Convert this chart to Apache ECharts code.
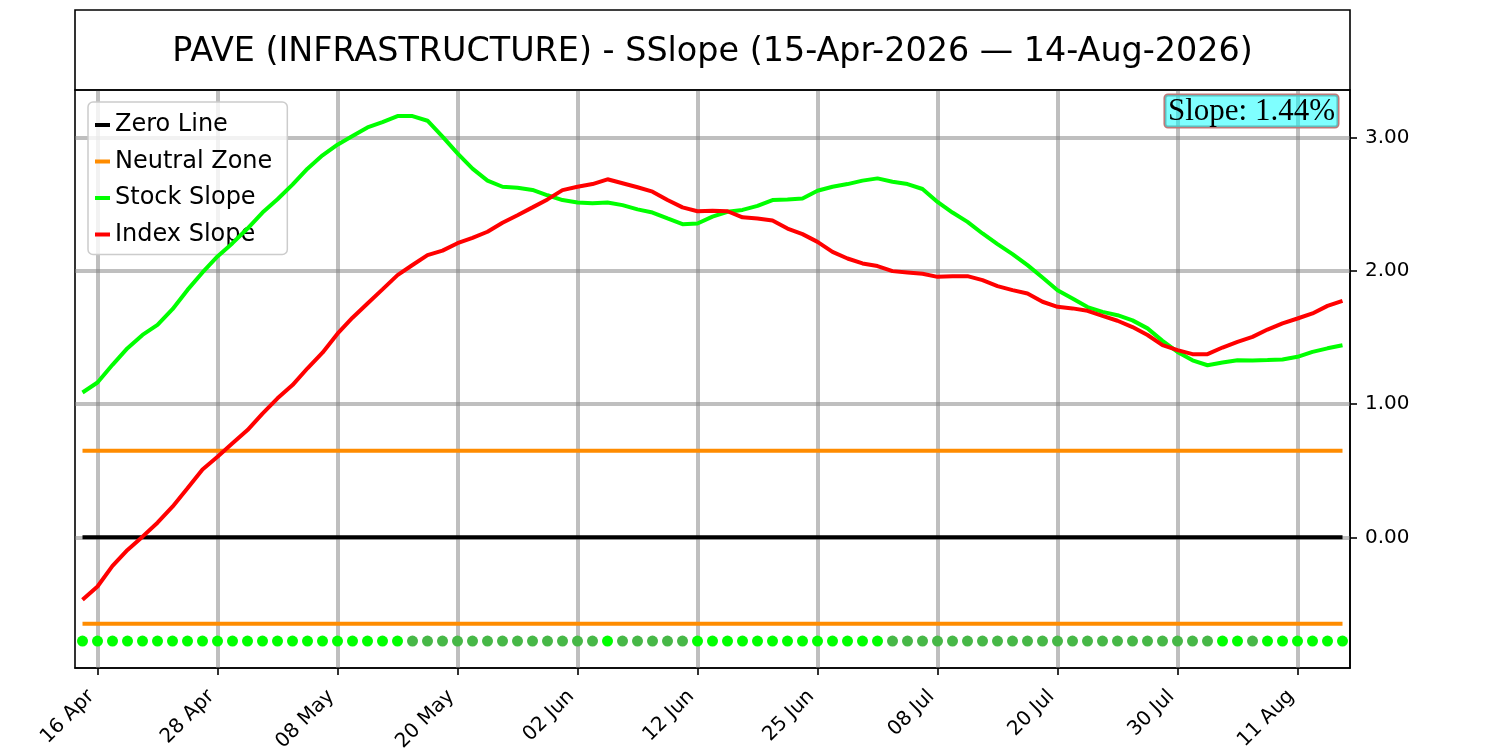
<!DOCTYPE html>
<html>
<head>
<meta charset="UTF-8">
<title>PAVE SSlope</title>
<style>
  html, body { margin: 0; padding: 0; background: #fff; }
  #main { width: 1500px; height: 750px; }
</style>
</head>
<body>
<div id="main"></div>
<script src="https://cdn.jsdelivr.net/npm/echarts@6/dist/echarts.min.js"></script>
<script>
// trading days 15 Apr - 14 Aug 2026
var dates = [
  '15 Apr', '16 Apr', '17 Apr', '20 Apr', '21 Apr', '22 Apr', '23 Apr', '24 Apr', '27 Apr', '28 Apr', '29 Apr', '30 Apr',
  '01 May', '04 May', '05 May', '06 May', '07 May', '08 May', '11 May', '12 May', '13 May', '14 May', '15 May',
  '18 May', '19 May', '20 May', '21 May', '22 May', '26 May', '27 May', '28 May', '29 May',
  '01 Jun', '02 Jun', '03 Jun', '04 Jun', '05 Jun', '08 Jun', '09 Jun', '10 Jun', '11 Jun', '12 Jun',
  '15 Jun', '16 Jun', '17 Jun', '18 Jun', '22 Jun', '23 Jun', '24 Jun', '25 Jun', '26 Jun', '29 Jun', '30 Jun',
  '01 Jul', '02 Jul', '06 Jul', '07 Jul', '08 Jul', '09 Jul', '10 Jul', '13 Jul', '14 Jul', '15 Jul', '16 Jul', '17 Jul',
  '20 Jul', '21 Jul', '22 Jul', '23 Jul', '24 Jul', '27 Jul', '28 Jul', '29 Jul', '30 Jul', '31 Jul',
  '03 Aug', '04 Aug', '05 Aug', '06 Aug', '07 Aug', '10 Aug', '11 Aug', '12 Aug', '13 Aug', '14 Aug'
];

var stockSlope = [
  1.088, 1.163, 1.296, 1.421, 1.521, 1.596, 1.714, 1.859, 1.990, 2.110,
  2.210, 2.320, 2.440, 2.540, 2.650, 2.770, 2.870, 2.950, 3.015, 3.080,
  3.120, 3.165, 3.165, 3.130, 3.010, 2.885, 2.770, 2.680, 2.634, 2.627,
  2.610, 2.570, 2.534, 2.516, 2.510, 2.516, 2.496, 2.464, 2.440, 2.396,
  2.353, 2.358, 2.410, 2.446, 2.460, 2.490, 2.534, 2.538, 2.546, 2.604,
  2.634, 2.654, 2.680, 2.697, 2.672, 2.654, 2.617, 2.520, 2.440, 2.370,
  2.283, 2.203, 2.128, 2.045, 1.952, 1.857, 1.794, 1.730, 1.694, 1.669,
  1.630, 1.570, 1.476, 1.393, 1.330, 1.293, 1.313, 1.330, 1.329, 1.332,
  1.336, 1.356, 1.393, 1.420, 1.443
];

var indexSlope = [
  -0.470, -0.370, -0.215, -0.095, 0.005, 0.110, 0.230, 0.368, 0.510, 0.606,
  0.706, 0.806, 0.930, 1.044, 1.144, 1.270, 1.387, 1.530, 1.650, 1.757,
  1.863, 1.970, 2.046, 2.120, 2.154, 2.210, 2.250, 2.296, 2.363, 2.420,
  2.479, 2.539, 2.609, 2.634, 2.654, 2.690, 2.660, 2.630, 2.597, 2.534,
  2.479, 2.450, 2.454, 2.450, 2.404, 2.396, 2.380, 2.320, 2.278, 2.220,
  2.145, 2.095, 2.058, 2.038, 2.000, 1.990, 1.980, 1.957, 1.962, 1.962,
  1.932, 1.887, 1.857, 1.832, 1.770, 1.732, 1.720, 1.702, 1.664, 1.627,
  1.580, 1.520, 1.444, 1.406, 1.376, 1.376, 1.426, 1.469, 1.506, 1.561,
  1.607, 1.644, 1.682, 1.739, 1.777
];

// 1 = bright dot, 0 = dim dot (bottom strip)
var dotUp = [
  1, 1, 1, 1, 1, 1, 1, 1, 1, 1, 1, 1, 1, 1, 1, 1, 1, 1, 1, 1, 1, 1,
  0, 0, 0, 0, 0, 0, 0, 0, 0, 0, 0, 0, 0,
  1,
  0, 0, 0, 0, 0,
  1, 1, 1, 1, 1, 1, 1, 1, 1, 1, 1, 1, 1,
  0, 0, 0, 0, 0, 0, 0, 0, 0, 0, 0, 0, 0, 0, 0, 0, 0, 0, 0, 0, 0, 0,
  1, 1,
  0,
  1, 1, 1, 1, 1, 1
];

var xTickLabels = ['16 Apr', '28 Apr', '08 May', '20 May', '02 Jun', '12 Jun', '25 Jun', '08 Jul', '20 Jul', '30 Jul', '11 Aug'];
var yTicks = [0, 1, 2, 3];
var neutralLevel = 0.65;
var dotLevel = -0.78;
var titleText = 'PAVE (INFRASTRUCTURE) - SSlope (15-Apr-2026 \u2014 14-Aug-2026)';

var FONT = '"DejaVu Sans", sans-serif';
var GRID_COLOR = 'rgba(128,128,128,0.5)';

function isTick(i, v) { return xTickLabels.indexOf(v) >= 0; }
function flat(v) { return dates.map(function () { return v; }); }

var chart = echarts.init(document.getElementById('main'));
chart.setOption({
  animation: false,
  backgroundColor: '#fff',
  grid: {
    left: 75, right: 150, top: 90, bottom: 82,
    containLabel: false, outerBoundsMode: 'none',
    show: true, borderColor: '#000', borderWidth: 1.6, backgroundColor: 'transparent'
  },
  legend: {
    data: ['Zero Line', 'Neutral Zone', 'Stock Slope', 'Index Slope'],
    orient: 'vertical',
    left: 88, top: 102,
    padding: [11, 15, 8, 7],
    itemGap: 12.5,
    icon: 'rect',
    itemWidth: 15, itemHeight: 4,
    backgroundColor: 'rgba(255,255,255,0.8)',
    borderColor: '#cccccc', borderWidth: 1.5, borderRadius: 5,
    selectedMode: false,
    textStyle: { fontSize: 24, fontFamily: FONT, color: '#000' }
  },
  xAxis: {
    type: 'category',
    data: dates,
    boundaryGap: true,
    axisLine: { show: true, onZero: false, lineStyle: { color: '#000', width: 1.6 } },
    axisTick: { show: true, alignWithLabel: true, interval: isTick, length: 7, lineStyle: { color: '#000', width: 1.6 } },
    axisLabel: {
      interval: isTick, rotate: 45, margin: 19,
      fontSize: 20, fontFamily: FONT, color: '#000',
      formatter: function (v) { return '{d|' + v + '}'; },
      rich: { d: { fontSize: 20, fontFamily: FONT, color: '#000', padding: [0, 9, 0, 0] } }
    },
    splitLine: { show: false }
  },
  yAxis: {
    type: 'value',
    position: 'right',
    min: -0.982, max: 3.361,
    axisLine: { show: true, onZero: false, lineStyle: { color: '#000', width: 1.6 } },
    axisTick: { show: true, customValues: yTicks, length: 7, lineStyle: { color: '#000', width: 1.6 } },
    axisLabel: {
      customValues: yTicks, margin: 15, fontSize: 20, fontFamily: FONT, color: '#000',
      formatter: function (v) { return v.toFixed(2); }
    },
    splitLine: { show: false }
  },
  series: [
    {
      type: 'line', data: [], silent: true, z: 1,
      markLine: {
        silent: true, z: 1, symbol: ['none', 'none'], label: { show: false },
        lineStyle: { color: GRID_COLOR, width: 4, type: 'solid' },
        emphasis: { disabled: true },
        data: xTickLabels.map(function (d) { return { xAxis: d }; })
          .concat(yTicks.map(function (v) { return { yAxis: v }; }))
      }
    },
    {
      name: 'Zero Line', type: 'line', data: flat(0), showSymbol: false, z: 3,
      color: '#000', lineStyle: { color: '#000', width: 4 }
    },
    {
      name: 'Neutral Zone', type: 'line', data: flat(neutralLevel), showSymbol: false, z: 3,
      color: '#ff8c00', lineStyle: { color: '#ff8c00', width: 4 }
    },
    {
      name: 'Neutral Zone', type: 'line', data: flat(-neutralLevel), showSymbol: false, z: 3,
      color: '#ff8c00', lineStyle: { color: '#ff8c00', width: 4 }
    },
    {
      name: 'Stock Slope', type: 'line', data: stockSlope, showSymbol: false, z: 4,
      color: '#00ff00', lineStyle: { color: '#00ff00', width: 4 }
    },
    {
      name: 'Index Slope', type: 'line', data: indexSlope, showSymbol: false, z: 5,
      color: '#ff0000', lineStyle: { color: '#ff0000', width: 4 }
    },
    {
      type: 'scatter', z: 4, symbolSize: 11, silent: true,
      data: flat(dotLevel),
      itemStyle: {
        opacity: 1,
        color: function (p) { return dotUp[p.dataIndex] ? '#00ff00' : '#47b847'; }
      }
    }
  ],
  graphic: [
    {
      type: 'rect', z: 10,
      shape: { x: 75, y: 10, width: 1275, height: 80 },
      style: { fill: 'none', stroke: '#000', lineWidth: 1.6 }
    },
    {
      type: 'text', z: 10, x: 712.5, y: 52,
      style: { text: titleText, font: '33.4px ' + FONT, fill: '#000', align: 'center', verticalAlign: 'middle' }
    },
    {
      type: 'text', z: 20, x: 1338, y: 95,
      style: {
        text: 'Slope: ' + stockSlope[stockSlope.length - 1].toFixed(2) + '%',
        font: '31px "Liberation Serif", serif', fill: '#000',
        align: 'right', verticalAlign: 'top',
        backgroundColor: 'rgba(0,255,255,0.5)',
        borderColor: '#c07878', borderWidth: 1.5, borderRadius: 3,
        padding: [1, 3, 0, 3]
      }
    }
  ]
});
</script>
</body>
</html>
